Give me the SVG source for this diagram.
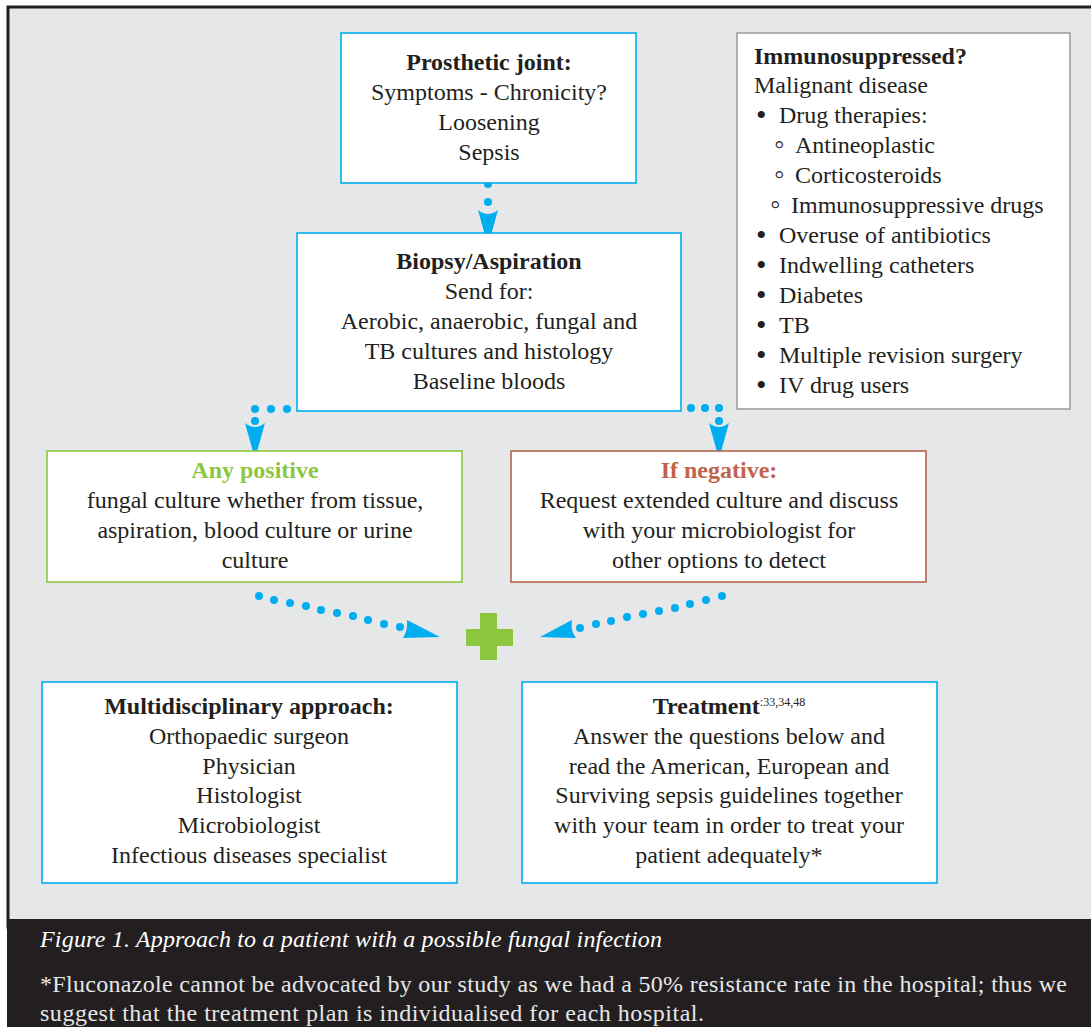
<svg xmlns="http://www.w3.org/2000/svg" width="1091" height="1027" viewBox="0 0 1091 1027">
<style>
  text { font-family: "Liberation Serif", "Times New Roman", serif; font-size: 24px; fill: #231f20; }
  .c { text-anchor: middle; }
  .b { font-weight: bold; }
  .box { fill: #ffffff; stroke-width: 1.6; }
  .blue { stroke: #00aeef; }
  .dot { fill: #00aeef; }
  .bul { font-size: 30px; }
  .sub { font-size: 30px; }
  .cap { fill: #ffffff; font-style: italic; }
  .note { fill: #e6e6e6; }
</style>
<defs>
  <path id="headDown" d="M -10 0 Q 0 8 10 0 L 0 36 Z" fill="#00aeef"/>
</defs>
<rect x="0" y="0" width="1091" height="1027" fill="#ffffff"/>
<rect x="8" y="7" width="1090" height="920" fill="#e6e7e8" stroke="#231f20" stroke-width="3"/>
<rect x="7" y="919" width="1084" height="108" fill="#231f20"/>

<g id="connectors">
  <circle class="dot" cx="488" cy="184" r="4"/>
  <circle class="dot" cx="488" cy="202" r="4"/>
  <use href="#headDown" x="488" y="210"/>

  <circle class="dot" cx="255" cy="409" r="4"/>
  <circle class="dot" cx="271" cy="409" r="4"/>
  <circle class="dot" cx="287" cy="409" r="4"/>
  <circle class="dot" cx="255" cy="421" r="4"/>
  <use href="#headDown" x="255" y="423"/>

  <circle class="dot" cx="691" cy="408" r="4"/>
  <circle class="dot" cx="705" cy="408" r="4"/>
  <circle class="dot" cx="719" cy="408" r="4"/>
  <circle class="dot" cx="719" cy="421" r="4"/>
  <use href="#headDown" x="719" y="423"/>

  <circle class="dot" cx="259" cy="596" r="4"/>
  <circle class="dot" cx="274" cy="600" r="4"/>
  <circle class="dot" cx="290" cy="603" r="4"/>
  <circle class="dot" cx="306" cy="606" r="4"/>
  <circle class="dot" cx="321" cy="610" r="4"/>
  <circle class="dot" cx="337" cy="613" r="4"/>
  <circle class="dot" cx="353" cy="616" r="4"/>
  <circle class="dot" cx="368" cy="620" r="4"/>
  <circle class="dot" cx="384" cy="624" r="4"/>
  <circle class="dot" cx="400" cy="627" r="4"/>
  <path d="M 407 620 Q 408 630 403 638 L 440 637 Z" fill="#00aeef"/>

  <circle class="dot" cx="722" cy="596" r="4"/>
  <circle class="dot" cx="706" cy="600" r="4"/>
  <circle class="dot" cx="690" cy="604" r="4"/>
  <circle class="dot" cx="675" cy="608" r="4"/>
  <circle class="dot" cx="659" cy="611" r="4"/>
  <circle class="dot" cx="643" cy="614" r="4"/>
  <circle class="dot" cx="627" cy="617" r="4"/>
  <circle class="dot" cx="611" cy="621" r="4"/>
  <circle class="dot" cx="596" cy="624" r="4"/>
  <circle class="dot" cx="580" cy="628" r="4"/>
  <path d="M 572 620 Q 570 630 576 638 L 540 637 Z" fill="#00aeef"/>
</g>

<g id="plus">
  <path d="M 480 613 H 497 V 629 H 513 V 646 H 497 V 660 H 480 V 646 H 466 V 629 H 480 Z" fill="#8dc63f"/>
</g>

<g id="prosthetic">
  <rect class="box blue" x="341" y="33" width="295" height="150"/>
  <text class="c b" x="489" y="70">Prosthetic joint:</text>
  <text class="c" x="489" y="100">Symptoms - Chronicity?</text>
  <text class="c" x="489" y="130">Loosening</text>
  <text class="c" x="489" y="160">Sepsis</text>
</g>

<g id="biopsy">
  <rect class="box blue" x="297" y="233" width="384" height="178"/>
  <text class="c b" x="489" y="269">Biopsy/Aspiration</text>
  <text class="c" x="489" y="299">Send for:</text>
  <text class="c" x="489" y="329">Aerobic, anaerobic, fungal and</text>
  <text class="c" x="489" y="359">TB cultures and histology</text>
  <text class="c" x="489" y="389">Baseline bloods</text>
</g>

<g id="immunosuppressed">
  <rect class="box" stroke="#9d9fa2" x="737" y="33" width="333" height="376"/>
  <text class="b" x="754" y="64">Immunosuppressed?</text>
  <text x="754" y="93">Malignant disease</text>
  <text class="bul" x="756" y="125">•</text><text x="779" y="123">Drug therapies:</text>
  <text class="sub" x="774" y="154">◦</text><text x="795" y="153">Antineoplastic</text>
  <text class="sub" x="774" y="184">◦</text><text x="795" y="183">Corticosteroids</text>
  <text class="sub" x="770" y="214">◦</text><text x="791" y="213">Immunosuppressive drugs</text>
  <text class="bul" x="756" y="245">•</text><text x="779" y="243">Overuse of antibiotics</text>
  <text class="bul" x="756" y="275">•</text><text x="779" y="273">Indwelling catheters</text>
  <text class="bul" x="756" y="305">•</text><text x="779" y="303">Diabetes</text>
  <text class="bul" x="756" y="335">•</text><text x="779" y="333">TB</text>
  <text class="bul" x="756" y="365">•</text><text x="779" y="363">Multiple revision surgery</text>
  <text class="bul" x="756" y="395">•</text><text x="779" y="393">IV drug users</text>
</g>

<g id="positive">
  <rect class="box" stroke="#8dc63f" x="47" y="451" width="415" height="131"/>
  <text class="c b" x="255" y="478" style="fill:#8dc63f">Any positive</text>
  <text class="c" x="255" y="508">fungal culture whether from tissue,</text>
  <text class="c" x="255" y="538">aspiration, blood culture or urine</text>
  <text class="c" x="255" y="568">culture</text>
</g>

<g id="negative">
  <rect class="box" stroke="#b5644f" x="511" y="451" width="415" height="131"/>
  <text class="c b" x="719" y="478" style="fill:#c0634b">If negative:</text>
  <text class="c" x="719" y="508">Request extended culture and discuss</text>
  <text class="c" x="719" y="538">with your microbiologist for</text>
  <text class="c" x="719" y="568">other options to detect</text>
</g>

<g id="multidisciplinary">
  <rect class="box blue" x="42" y="682" width="415" height="201"/>
  <text class="c b" x="249" y="714">Multidisciplinary approach:</text>
  <text class="c" x="249" y="744">Orthopaedic surgeon</text>
  <text class="c" x="249" y="774">Physician</text>
  <text class="c" x="249" y="803">Histologist</text>
  <text class="c" x="249" y="833">Microbiologist</text>
  <text class="c" x="249" y="863">Infectious diseases specialist</text>
</g>

<g id="treatment">
  <rect class="box blue" x="522" y="682" width="415" height="201"/>
  <text class="c" x="729" y="714"><tspan class="b">Treatment</tspan><tspan font-size="12" dy="-8">:33,34,48</tspan></text>
  <text class="c" x="729" y="744">Answer the questions below and</text>
  <text class="c" x="729" y="774">read the American, European and</text>
  <text class="c" x="729" y="803">Surviving sepsis guidelines together</text>
  <text class="c" x="729" y="833">with your team in order to treat your</text>
  <text class="c" x="729" y="863">patient adequately*</text>
</g>

<g id="caption">
  <text class="cap" x="40" y="947" textLength="622">Figure 1. Approach to a patient with a possible fungal infection</text>
  <text class="note" x="40" y="992" textLength="1027">*Fluconazole cannot be advocated by our study as we had a 50% resistance rate in the hospital; thus we</text>
  <text class="note" x="40" y="1021" textLength="664">suggest that the treatment plan is individualised for each hospital.</text>
</g>
</svg>
